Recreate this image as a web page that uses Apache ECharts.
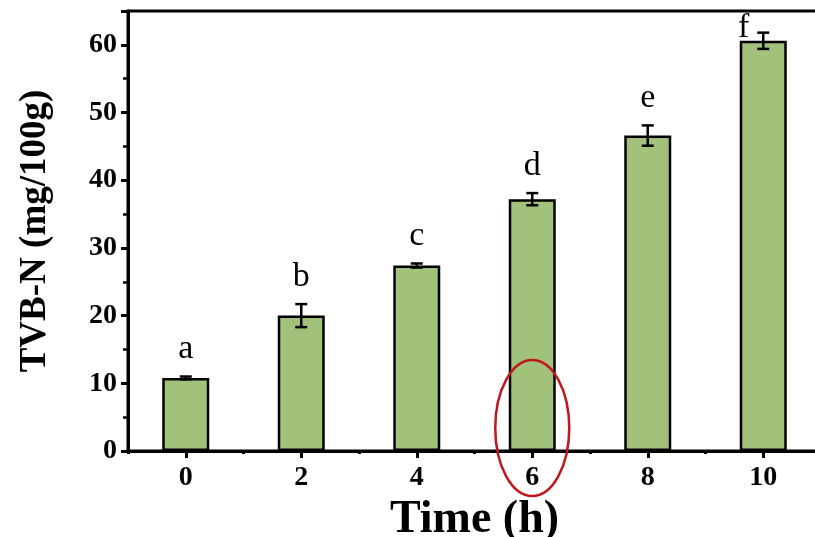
<!DOCTYPE html>
<html>
<head>
<meta charset="utf-8">
<script src="https://cdn.jsdelivr.net/npm/echarts@6/dist/echarts.min.js"></script>
<style>
  html, body { margin: 0; padding: 0; background: #fff; }
  #chart { width: 815px; height: 537px; }
</style>
</head>
<body>
<div id="chart"></div>
<script>
const categories = ['0', '2', '4', '6', '8', '10']
const tvbn = [10.8, 20.0, 27.4, 37.2, 46.6, 60.6]
const errors = [0.2, 1.7, 0.3, 0.9, 1.5, 1.2]
const letters = ['a', 'b', 'c', 'd', 'e', 'f']
const yTicks = [0, 10, 20, 30, 40, 50, 60]

const serif = '"Liberation Serif", "Times New Roman", serif'
const chart = echarts.init(document.getElementById('chart'))

chart.setOption({
  backgroundColor: '#fff',
  animation: false,
  grid: {
    left: 128, top: 11, bottom: 86, right: -6,
    show: true, borderColor: '#000', borderWidth: 3,
    containLabel: false, outerBoundsMode: 'none'
  },
  xAxis: [
    {
      type: 'category',
      data: categories,
      name: 'Time (h)',
      nameLocation: 'middle',
      nameGap: 45,
      nameTextStyle: { fontFamily: serif, fontWeight: 'bold', fontSize: 46, color: '#000' },
      axisLine: { lineStyle: { color: '#000', width: 3 } },
      axisTick: { show: true, alignWithLabel: true, length: 7, lineStyle: { width: 3, color: '#000' } },
      axisLabel: { fontFamily: serif, fontWeight: 'bold', fontSize: 28, color: '#000', margin: 13 }
    },
    {
      // boundary (minor) ticks between categories
      type: 'category',
      data: categories,
      position: 'bottom',
      axisLine: { show: false },
      axisTick: { show: true, alignWithLabel: false, length: 3, lineStyle: { width: 3, color: '#000' } },
      axisLabel: { show: false }
    }
  ],
  yAxis: {
    type: 'value',
    min: 0, max: 65, interval: 10,
    name: 'TVB-N (mg/100g)',
    nameLocation: 'middle',
    nameGap: 74,
    nameTextStyle: { fontFamily: serif, fontWeight: 'bold', fontSize: 37, color: '#000' },
    axisLine: { show: true, lineStyle: { color: '#000', width: 3 } },
    axisTick: { show: true, length: 7, lineStyle: { width: 3, color: '#000' } },
    minorTick: { show: true, splitNumber: 2, length: 5, lineStyle: { width: 2.5, color: '#000' } },
    splitLine: { show: false },
    axisLabel: {
      fontFamily: serif, fontWeight: 'bold', fontSize: 28, color: '#000', margin: 11,
      showMaxLabel: false,
      formatter: v => yTicks.includes(v) ? String(v) : ''
    }
  },
  series: [
    {
      type: 'bar',
      data: tvbn,
      barWidth: 47,
      itemStyle: { color: '#a2c17b', borderColor: '#000', borderWidth: 2.5 },
      z: 2
    },
    {
      type: 'custom',
      z: 3,
      data: tvbn.map((v, i) => [i, v, errors[i], letters[i]]),
      renderItem: (params, api) => {
        const x = api.value(0)
        const hi = api.coord([x, api.value(1) + api.value(2)])
        const lo = api.coord([x, api.value(1) - api.value(2)])
        const cap = 6
        const style = { stroke: '#000', lineWidth: 2.5 }
        const top = params.coordSys.y
        let tx = hi[0], ty = hi[1] - 10, align = 'center'
        if (ty - 28 < top) { tx = hi[0] - 14; ty = hi[1] + 12; align = 'right' }
        return {
          type: 'group',
          children: [
            { type: 'line', shape: { x1: hi[0], y1: hi[1], x2: lo[0], y2: lo[1] }, style },
            { type: 'line', shape: { x1: hi[0] - cap, y1: hi[1], x2: hi[0] + cap, y2: hi[1] }, style },
            { type: 'line', shape: { x1: lo[0] - cap, y1: lo[1], x2: lo[0] + cap, y2: lo[1] }, style },
            {
              type: 'text',
              style: {
                x: tx, y: ty, text: api.value(3), align: align, verticalAlign: 'bottom',
                fontFamily: serif, fontSize: 34, fill: '#000'
              }
            }
          ]
        }
      }
    }
  ]
})

// red ellipse highlighting the 6 h bar
const c = chart.convertToPixel({ xAxisIndex: 0, yAxisIndex: 0 }, ['6', 3.4])
chart.setOption({
  graphic: [{
    type: 'ellipse',
    shape: { cx: c[0], cy: c[1], rx: 37, ry: 68 },
    style: { fill: 'none', stroke: '#c0161e', lineWidth: 2.5 },
    z: 10
  }]
})
</script>
</body>
</html>
